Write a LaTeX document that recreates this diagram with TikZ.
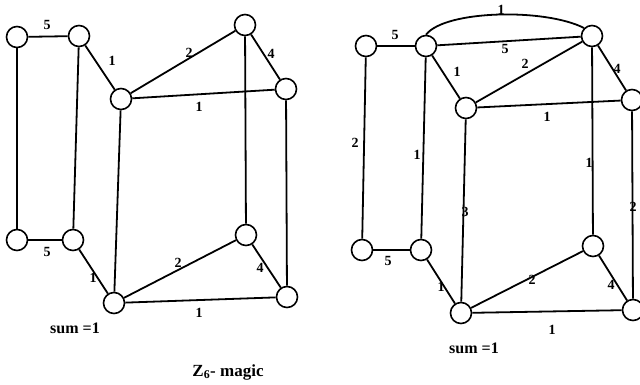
\documentclass[tikz,border=0pt]{standalone}
\usepackage{fontspec}
\setmainfont{Liberation Serif}
\begin{document}
\begin{tikzpicture}[x=1pt,y=-1pt,
  vtx/.style={draw,circle,minimum size=21pt,inner sep=0pt,line width=1.6pt,fill=white},
  edge/.style={line width=1.8pt},
  lab/.style={font=\fontsize{14}{14}\selectfont\bfseries,inner sep=0pt},
  captext/.style={font=\fontsize{16}{16}\selectfont\bfseries,inner sep=0pt}]
\useasboundingbox (0,0) rectangle (640,384);
% left graph
\node[vtx] (A1) at (17,37) {};
\node[vtx] (A2) at (79,36) {};
\node[vtx] (A3) at (121,99) {};
\node[vtx] (A4) at (245,25) {};
\node[vtx] (A5) at (286,89) {};
\node[vtx] (B1) at (17,240) {};
\node[vtx] (B2) at (73,240) {};
\node[vtx] (B3) at (114,303) {};
\node[vtx] (B4) at (246,235) {};
\node[vtx] (B5) at (287,297) {};
\draw[edge] (A1) -- (A2);
\draw[edge] (A2) -- (A3);
\draw[edge] (A3) -- (A4);
\draw[edge] (A4) -- (A5);
\draw[edge] (A3) -- (A5);
\draw[edge] (A1) -- (B1);
\draw[edge] (A2) -- (B2);
\draw[edge] (A3) -- (B3);
\draw[edge] (A4) -- (B4);
\draw[edge] (A5) -- (B5);
\draw[edge] (B1) -- (B2);
\draw[edge] (B2) -- (B3);
\draw[edge] (B3) -- (B4);
\draw[edge] (B4) -- (B5);
\draw[edge] (B3) -- (B5);
\node[lab] (la1) at (47,25) {5};
\node[lab] (la2) at (112,61) {1};
\node[lab] (la3) at (189,53) {2};
\node[lab] (la4) at (271,54) {4};
\node[lab] (la5) at (199,107) {1};
\node[lab] (lb1) at (47,252) {5};
\node[lab] (lb2) at (93,278) {1};
\node[lab] (lb3) at (178,263) {2};
\node[lab] (lb4) at (260,268) {4};
\node[lab] (lb5) at (199,313) {1};
\node[captext] (sumL) at (75,328) {sum =1};
\node[captext,font=\fontsize{17}{17}\selectfont\bfseries] (title) at (228,372) {Z\textsubscript{6}- magic};
% right graph
\node[vtx] (C1) at (366,46) {};
\node[vtx] (C2) at (426,46) {};
\node[vtx] (C3) at (466,108) {};
\node[vtx] (C4) at (592,36) {};
\node[vtx] (C5) at (632,100) {};
\node[vtx] (D1) at (362,250) {};
\node[vtx] (D2) at (421,250) {};
\node[vtx] (D3) at (461,313) {};
\node[vtx] (D4) at (593,246) {};
\node[vtx] (D5) at (633,310) {};
\draw[edge] (C1) -- (C2);
\draw[edge] (C2.north) .. controls (445,10) and (545,8) .. (C4.north west);
\draw[edge] (C2) -- (C4);
\draw[edge] (C2) -- (C3);
\draw[edge] (C3) -- (C4);
\draw[edge] (C4) -- (C5);
\draw[edge] (C3) -- (C5);
\draw[edge] (C1) -- (D1);
\draw[edge] (C2) -- (D2);
\draw[edge] (C3) -- (D3);
\draw[edge] (C4) -- (D4);
\draw[edge] (C5) -- (D5);
\draw[edge] (D1) -- (D2);
\draw[edge] (D2) -- (D3);
\draw[edge] (D3) -- (D4);
\draw[edge] (D4) -- (D5);
\draw[edge] (D3) -- (D5);
\node[lab] (lc1) at (395,35) {5};
\node[lab] (lc2) at (501,10) {1};
\node[lab] (lc3) at (505,49) {5};
\node[lab] (lc4) at (457,72) {1};
\node[lab] (lc5) at (525,64) {2};
\node[lab] (lc6) at (617,69) {4};
\node[lab] (lc7) at (547,117) {1};
\node[lab] (lv1) at (355,143) {2};
\node[lab] (lv2) at (417,155) {1};
\node[lab] (lv3) at (465,212) {3};
\node[lab] (lv4) at (589,163) {1};
\node[lab] (lv5) at (633,207) {2};
\node[lab] (ld1) at (388,261) {5};
\node[lab] (ld2) at (441,287) {1};
\node[lab] (ld3) at (532,280) {2};
\node[lab] (ld4) at (611,285) {4};
\node[lab] (ld5) at (552,330) {1};
\node[captext] (sumR) at (474,348) {sum =1};
\end{tikzpicture}
\end{document}
